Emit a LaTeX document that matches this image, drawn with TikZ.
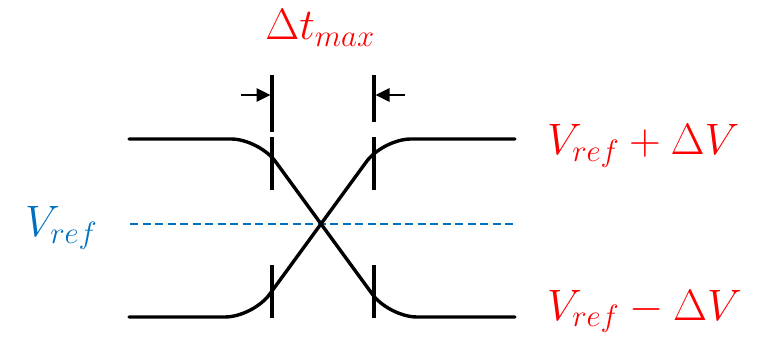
\RequirePackage{fix-cm}
\documentclass[tikz,border=0pt]{standalone}
\usetikzlibrary{arrows.meta}
\definecolor{refblue}{RGB}{0,112,192}
\begin{document}
\begin{tikzpicture}[x=1pt,y=1pt,
  sig/.style={line width=3.4pt,rounded corners=28pt,line cap=round},
  tick/.style={line width=3.4pt},
  dim/.style={line width=2.6pt,-{Triangle[length=14pt,width=13pt]}},
  lbl/.style={text=red,inner sep=0pt,font=\fontsize{44}{52}\selectfont},
  blbl/.style={text=refblue,inner sep=0pt,font=\fontsize{44}{52}\selectfont}]
\useasboundingbox (0,0) rectangle (767,337);
% corner coordinates
\coordinate (tl) at (129,198);
\coordinate (tlc) at (259,198);
\coordinate (brc) at (389,20);
\coordinate (br) at (515,20);
\coordinate (bl) at (129,20);
\coordinate (blc) at (253,20);
\coordinate (trc) at (383,198);
\coordinate (tr) at (515,198);
\coordinate (dl) at (130,113);
\coordinate (dr) at (515,113);
% reference dashed line
\draw[refblue,line width=1.4pt,dash pattern=on 8pt off 4.5pt] (dl) -- (dr);
% signals
\draw[sig] (tl) -- (tlc) -- (brc) -- (br);
\draw[sig] (bl) -- (blc) -- (trc) -- (tr);
% ticks
\coordinate (a1) at (272,262); \coordinate (a2) at (272,205);
\coordinate (a3) at (272,200); \coordinate (a4) at (272,147);
\coordinate (b1) at (374,262); \coordinate (b2) at (374,215);
\coordinate (b3) at (374,200); \coordinate (b4) at (374,147);
\coordinate (c1) at (272,72); \coordinate (c2) at (272,19);
\coordinate (d1) at (374,72); \coordinate (d2) at (374,19);
\draw[tick] (a1) -- (a2); \draw[tick] (a3) -- (a4);
\draw[tick] (b1) -- (b2); \draw[tick] (b3) -- (b4);
\draw[tick] (c1) -- (c2); \draw[tick] (d1) -- (d2);
% dimension arrows
\coordinate (la) at (241,242); \coordinate (lt) at (270.5,242);
\coordinate (ra) at (405,242); \coordinate (rt) at (375.5,242);
\draw[dim] (la) -- (lt);
\draw[dim] (ra) -- (rt);
% labels
\node[lbl,anchor=base] (dt) at (320,297) {$\Delta t_{max}$};
\node[lbl,anchor=base west] (vp) at (547,182) {$V_{ref}+\Delta V$};
\node[lbl,anchor=base west] (vm) at (547,17) {$V_{ref}-\Delta V$};
\node[blbl,anchor=base west] (vr) at (25,100) {$V_{ref}$};
\end{tikzpicture}
\end{document}
